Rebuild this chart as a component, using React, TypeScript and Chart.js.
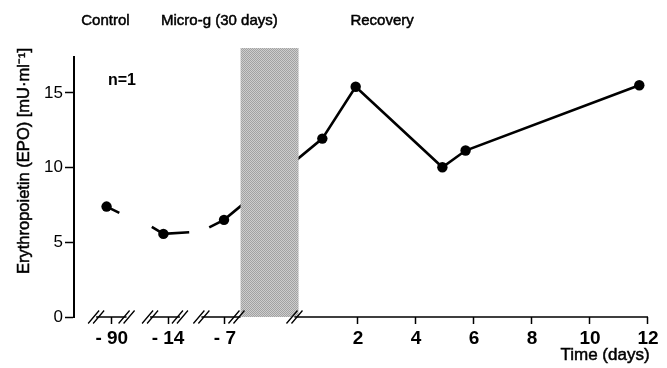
import React, { useEffect, useRef } from 'react';
import { Chart, registerables } from 'chart.js';

Chart.register(...registerables);

// ---- data ----
const xTickPositions = [-6.49, -4.55, -2.59, 2, 4, 6, 8, 10, 12];
const xTickLabels = ['- 90', '- 14', '- 7', '2', '4', '6', '8', '10', '12'];
const yTickValues = [0, 5, 10, 15];

const controlX = [-6.67, -4.71, -2.62];
const controlEPO = [7.39, 5.56, 6.5];
const recoveryDays = [0.77, 1.92, 4.91, 5.71, 11.7];
const recoveryEPO = [11.94, 15.41, 10.02, 11.14, 15.51];

// broken connector pieces in the control period ([x, EPO] pairs)
const stub1 = [[-6.67, 7.39], [-6.23, 6.97]];
const stub2 = [[-5.11, 6.03], [-4.71, 5.56], [-3.82, 5.67]];
const stub3 = [[-3.13, 6.0], [-2.62, 6.5]];

const flightPeriod = [-2.05, -0.05];
const flightTopValue = 18.0;

const axisSegments = [[-7.03, -5.98], [-5.17, -4.14], [-3.4, -2.05], [-0.19, 12]];
const axisBreaks = [-7.03, -5.98, -5.17, -4.14, -3.4, -2.19, -0.19];

const periodLabels = ['Control', 'Micro-g (30 days)', 'Recovery'];
const periodCenters = [-6.71, -2.78, 2.83];

const yTitle = 'Erythropoietin (EPO) [mU\u00B7ml\u207B\u00B9]';
const xTitle = 'Time (days)';
const nLabel = 'n=1';

const FONT = "'Liberation Sans', Arial, sans-serif";

function makePattern(ctx: CanvasRenderingContext2D) {
  const c = document.createElement('canvas');
  c.width = 2;
  c.height = 2;
  const p = c.getContext('2d')!;
  p.fillStyle = '#cdcdcd';
  p.fillRect(0, 0, 2, 2);
  p.fillStyle = '#a2a2a2';
  p.fillRect(0, 0, 1, 1);
  p.fillRect(1, 1, 1, 1);
  return ctx.createPattern(c, 'repeat');
}

function heavyText(ctx: CanvasRenderingContext2D, t: string, x: number, y: number) {
  ctx.fillText(t, x, y);
  ctx.lineWidth = 0.5;
  ctx.strokeStyle = '#000';
  ctx.strokeText(t, x, y);
}

const decorPlugin = {
  id: 'decor',
  afterDatasetsDraw(chart: any) {
    const { ctx, scales } = chart;
    const x = scales.x;
    const y = scales.y;
    ctx.save();
    // flight (micro-g) period block
    const x0 = x.getPixelForValue(flightPeriod[0]);
    const x1 = x.getPixelForValue(flightPeriod[1]);
    const yTop = y.getPixelForValue(flightTopValue);
    const yBot = y.getPixelForValue(0);
    ctx.fillStyle = makePattern(ctx) || '#b5b5b5';
    ctx.fillRect(x0, yTop, x1 - x0, yBot - yTop);

    // x axis pieces
    ctx.strokeStyle = '#000';
    ctx.lineWidth = 1.6;
    ctx.beginPath();
    for (const [a, b] of axisSegments) {
      ctx.moveTo(x.getPixelForValue(a), yBot);
      ctx.lineTo(x.getPixelForValue(b), yBot);
    }
    ctx.stroke();
    // break marks //
    ctx.lineWidth = 1.3;
    ctx.beginPath();
    for (const b of axisBreaks) {
      const cx = x.getPixelForValue(b);
      for (const off of [-2.5, 2.5]) {
        ctx.moveTo(cx + off - 5.5, yBot + 6.5);
        ctx.lineTo(cx + off + 5.5, yBot - 6.5);
      }
    }
    ctx.stroke();

    // texts
    ctx.fillStyle = '#000';
    ctx.textAlign = 'center';
    ctx.textBaseline = 'alphabetic';
    ctx.font = `15px ${FONT}`;
    periodLabels.forEach((t, i) => {
      heavyText(ctx, t, x.getPixelForValue(periodCenters[i]), 25);
    });
    ctx.font = `bold 16px ${FONT}`;
    ctx.fillText(nLabel, 122, 85);
    ctx.font = `17px ${FONT}`;
    heavyText(ctx, xTitle, 605, 360);
    ctx.save();
    ctx.translate(29, 161);
    ctx.rotate(-Math.PI / 2);
    ctx.font = `16.5px ${FONT}`;
    heavyText(ctx, yTitle, 0, 0);
    ctx.restore();
    ctx.restore();
  },
};

function buildLine() {
  const pts: any[] = [];
  stub1.forEach(([a, b]) => pts.push({ x: a, y: b }));
  pts.push({ x: -5.5, y: null });
  stub2.forEach(([a, b]) => pts.push({ x: a, y: b }));
  pts.push({ x: -3.5, y: null });
  stub3.forEach(([a, b]) => pts.push({ x: a, y: b }));
  recoveryDays.forEach((d, i) => pts.push({ x: d, y: recoveryEPO[i] }));
  return pts;
}

export default function App() {
  const ref = useRef<HTMLCanvasElement>(null);
  useEffect(() => {
    const canvas = ref.current!;
    const markers = [
      ...controlX.map((v, i) => ({ x: v, y: controlEPO[i] })),
      ...recoveryDays.map((v, i) => ({ x: v, y: recoveryEPO[i] })),
    ];
    const chart = new Chart(canvas, {
      type: 'line',
      data: {
        datasets: [
          {
            data: buildLine(),
            borderColor: '#000',
            borderWidth: 2.6,
            pointRadius: 0,
            spanGaps: false,
            fill: false,
          },
          {
            data: markers,
            showLine: false,
            pointRadius: 5.2,
            pointBackgroundColor: '#000',
            pointBorderColor: '#000',
            pointBorderWidth: 0,
          },
        ],
      } as any,
      options: {
        responsive: false,
        animation: false,
        events: [],
        layout: { padding: { top: 57, right: 7, left: 0, bottom: 0 } },
        plugins: { legend: { display: false }, tooltip: { enabled: false } },
        scales: {
          x: {
            type: 'linear',
            min: -7.793,
            max: 12.414,
            afterFit: (s: any) => {
              s.height = 51;
            },
            afterBuildTicks: (s: any) => {
              s.ticks = xTickPositions.map((v) => ({ value: v }));
            },
            border: { display: false },
            grid: {
              drawOnChartArea: false,
              drawTicks: true,
              tickLength: 7,
              tickWidth: 1.5,
              tickColor: '#000',
            },
            ticks: {
              autoSkip: false,
              maxRotation: 0,
              padding: 3,
              color: '#000',
              font: { family: FONT, size: 19, weight: 'bold' },
              callback: (_v: any, i: number) => xTickLabels[i],
            },
          },
          y: {
            type: 'linear',
            min: 0,
            max: 17.4,
            afterFit: (s: any) => {
              s.width = 74;
            },
            afterBuildTicks: (s: any) => {
              s.ticks = yTickValues.map((v) => ({ value: v }));
            },
            border: { display: true, color: '#000', width: 2 },
            grid: {
              drawOnChartArea: false,
              drawTicks: true,
              tickLength: 9,
              tickWidth: 1.5,
              tickColor: '#000',
            },
            ticks: {
              padding: 2,
              color: '#000',
              font: { family: FONT, size: 17 },
            },
          },
        },
      } as any,
      plugins: [decorPlugin],
    });
    return () => chart.destroy();
  }, []);
  return (
    <canvas
      ref={ref}
      width={667}
      height={368}
      style={{ position: 'absolute', left: 0, top: 0, display: 'block' }}
    />
  );
}
